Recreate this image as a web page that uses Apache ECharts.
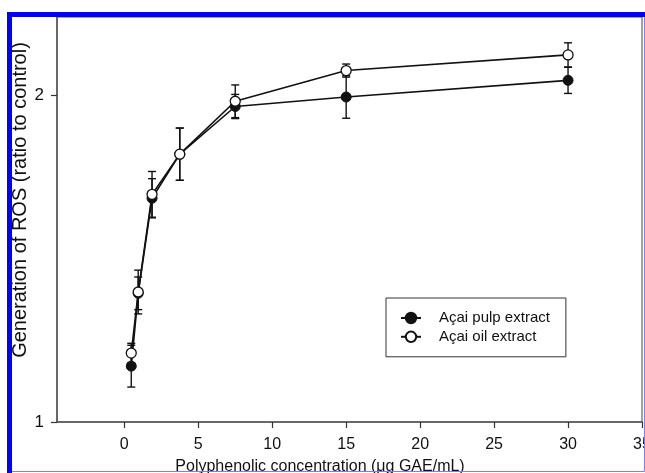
<!DOCTYPE html>
<html>
<head>
<meta charset="utf-8">
<script src="https://cdn.jsdelivr.net/npm/echarts@6/dist/echarts.min.js"></script>
<style>
  html, body { margin: 0; padding: 0; background: #fff; }
  #chart { width: 645px; height: 473px; }
</style>
</head>
<body>
<div id="chart"></div>
<script>
// concentrations (ug GAE/mL)
const concentrations = [0.47, 0.94, 1.875, 3.75, 7.5, 15, 30];
// ROS ratio to control
const pulpValues = [1.171, 1.394, 1.685, 1.820, 1.966, 1.995, 2.046];
const pulpErrors = [0.064, 0.05, 0.06, 0.08, 0.037, 0.065, 0.04];
const oilValues = [1.211, 1.398, 1.697, 1.820, 1.982, 2.076, 2.124];
const oilErrors = [0.03, 0.067, 0.07, 0.08, 0.05, 0.02, 0.037];
const xTicks = [0, 5, 10, 15, 20, 25, 30, 35];
const seriesNames = ['Açai pulp extract', 'Açai oil extract'];

const font = "'Liberation Sans', Arial, sans-serif";
const ink = '#111';

const pairs = (vals) => concentrations.map((c, i) => [c, vals[i]]);
const errRows = (vals, errs) => concentrations.map((c, i) => [c, vals[i] - errs[i], vals[i] + errs[i]]);

const renderErrorBar = (params, api) => {
  const x = api.value(0);
  const lo = api.coord([x, api.value(1)]);
  const hi = api.coord([x, api.value(2)]);
  const half = 4;
  const style = { stroke: ink, lineWidth: 1.4 };
  return {
    type: 'group',
    children: [
      { type: 'line', shape: { x1: lo[0], y1: lo[1], x2: hi[0], y2: hi[1] }, style },
      { type: 'line', shape: { x1: hi[0] - half, y1: hi[1], x2: hi[0] + half, y2: hi[1] }, style },
      { type: 'line', shape: { x1: lo[0] - half, y1: lo[1], x2: lo[0] + half, y2: lo[1] }, style },
    ],
  };
};

const chart = echarts.init(document.getElementById('chart'), null, { renderer: 'canvas' });

chart.setOption({
  animation: false,
  backgroundColor: '#fff',
  grid: {
    left: 57, right: 3, top: 17, bottom: 51,
    outerBoundsMode: 'none',
    containLabel: false,
    show: true, borderColor: '#444', borderWidth: 1, backgroundColor: 'transparent',
  },
  legend: {
    data: seriesNames,
    orient: 'vertical',
    left: 386, top: 298,
    width: 186,
    padding: [12.5, 16, 12.5, 14],
    itemWidth: 20, itemHeight: 13,
    itemGap: 3.8,
    borderColor: '#333', borderWidth: 1,
    textStyle: { fontFamily: font, fontSize: 15, color: ink, padding: [0, 0, 0, 13] },
  },
  xAxis: {
    type: 'value',
    min: -4.55, max: 35,
    splitLine: { show: false },
    axisLine: { onZero: false, lineStyle: { color: '#555', width: 1.5 } },
    axisTick: { show: true, length: 6, customValues: xTicks, lineStyle: { color: '#333', width: 1.2 } },
    axisLabel: { customValues: xTicks, margin: 15, fontFamily: font, fontSize: 16, color: ink, showMaxLabel: true, hideOverlap: false },
  },
  yAxis: {
    type: 'value',
    min: 1, max: 2.24, interval: 1,
    splitLine: { show: false },
    axisLine: { show: true, onZero: false, lineStyle: { color: '#555', width: 1.5 } },
    axisTick: { show: true, length: 6, lineStyle: { color: '#333', width: 1.2 } },
    axisLabel: { margin: 13, fontFamily: font, fontSize: 17, color: ink, showMaxLabel: false },
  },
  series: [
    {
      type: 'custom',
      renderItem: renderErrorBar,
      data: errRows(pulpValues, pulpErrors),
      z: 1,
      silent: true,
    },
    {
      type: 'custom',
      renderItem: renderErrorBar,
      data: errRows(oilValues, oilErrors),
      z: 1,
      silent: true,
    },
    {
      name: seriesNames[0],
      type: 'line',
      data: pairs(pulpValues),
      symbol: 'circle',
      symbolSize: 10,
      lineStyle: { color: ink, width: 1.6 },
      itemStyle: { color: ink, borderColor: ink, borderWidth: 1 },
      z: 2,
    },
    {
      name: seriesNames[1],
      type: 'line',
      data: pairs(oilValues),
      symbol: 'circle',
      symbolSize: 10,
      lineStyle: { color: ink, width: 1.6 },
      itemStyle: { color: '#fff', borderColor: ink, borderWidth: 1.3 },
      z: 3,
    },
  ],
  graphic: [
    {
      type: 'text', x: 20, y: 200, rotation: Math.PI / 2,
      style: {
        text: 'Generation of ROS (ratio to control)',
        font: "20px 'Liberation Sans', Arial, sans-serif",
        fill: ink, align: 'center', verticalAlign: 'middle',
      },
    },
    {
      type: 'text', x: 320, y: 467,
      style: {
        text: 'Polyphenolic concentration (\u03bcg GAE/mL)',
        font: "16px 'Liberation Sans', Arial, sans-serif",
        fill: ink, align: 'center', verticalAlign: 'middle',
      },
    },
    {
      type: 'polyline', z: 100,
      shape: { points: [[9.5, 473], [9.5, 14.5], [650, 14.5]] },
      style: { stroke: '#0000ff', lineWidth: 5, fill: null },
    },
    {
      type: 'polyline', z: 100,
      shape: { points: [[12, 471.5], [644.5, 471.5], [644.5, 17]] },
      style: { stroke: '#7c7cff', lineWidth: 1, fill: null },
    },
  ],
});
</script>
</body>
</html>
